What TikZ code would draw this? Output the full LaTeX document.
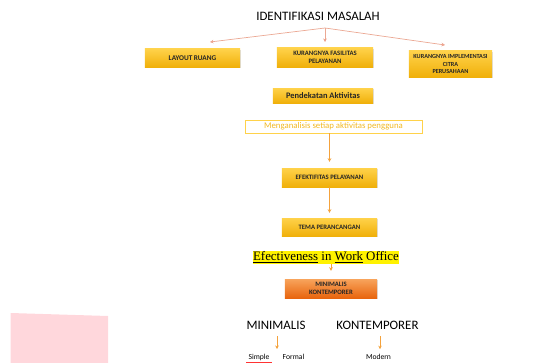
\documentclass[tikz,border=0pt]{standalone}
\usepackage{fontspec}
\setmainfont{Carlito}
\newfontfamily\timesfont{Liberation Serif}
\usepackage{tikz}
\usetikzlibrary{arrows.meta}
\usetikzlibrary{shadows}

\definecolor{boxtop}{HTML}{FFD24A}
\definecolor{boxbot}{HTML}{F0B00A}
\definecolor{orgtop}{HTML}{F8A45C}
\definecolor{orgbot}{HTML}{E8650E}
\definecolor{linesalmon}{HTML}{EBA893}
\definecolor{arrorange}{HTML}{F4A23C}
\definecolor{pinkblock}{HTML}{FFD7DC}

\tikzset{
  ybox/.style={top color=boxtop, bottom color=boxbot, align=center, inner sep=1pt,
    font=\bfseries\fontsize{6.2}{7}\selectfont, text=black!85,
    drop shadow={opacity=0.25, shadow xshift=0.5pt, shadow yshift=-1pt}},
  obox/.style={ybox, top color=orgtop, bottom color=orgbot},
  arr/.style={draw=arrorange, line width=0.6pt, arrows={-Stealth[width=3pt, length=3pt]}},
  branch/.style={draw=linesalmon, line width=0.6pt, arrows={-Stealth[width=3pt, length=3pt, fill=red!70!orange]}},
}

\begin{document}
\begin{tikzpicture}[x=0.03cm, y=-0.03cm]
\useasboundingbox (0, 0) rectangle (547, 363);
\fill[pinkblock] (10.5, 313) -- (108, 316) -- (108, 363) -- (10.5, 363) -- cycle;

\node[font=\fontsize{11}{13}\selectfont] (title) at (318, 16) {IDENTIFIKASI MASALAH};
\coordinate (br) at (325, 28);
\coordinate (tip_lay) at (210, 42);
\coordinate (tip_fas) at (325, 42);
\coordinate (tip_img) at (445, 45);

\node[ybox, minimum width=2.85cm, minimum height=0.54cm] (lay) at (192.5, 58) {LAYOUT RUANG};
\node[ybox, font=\bfseries\fontsize{5.7}{6.6}\selectfont, minimum width=2.88cm, minimum height=0.57cm] (fas) at (325, 57.5) {KURANGNYA FASILITAS\\PELAYANAN};
\node[ybox, font=\bfseries\fontsize{5.3}{6.4}\selectfont, minimum width=2.49cm, minimum height=0.78cm] (img) at (450.5, 64) {KURANGNYA IMPLEMENTASI\\CITRA\\PERUSAHAAN};
\draw[branch] (br) -- (tip_lay);
\draw[branch] (br) -- (tip_fas);
\draw[branch] (br) -- (tip_img);

\node[ybox, font=\bfseries\fontsize{7.2}{8}\selectfont, minimum width=3cm, minimum height=0.45cm] (pend) at (323, 95.5) {Pendekatan Aktivitas};
\node[draw=boxtop, line width=0.6pt, text=boxbot!90!white, font=\fontsize{7.5}{8}\selectfont,
  minimum width=5.31cm, minimum height=0.39cm, inner sep=1pt] (meng) at (333.5, 126.5) {Menganalisis setiap aktivitas pengguna};

\node[ybox, font=\bfseries\fontsize{5.7}{7}\selectfont, minimum width=2.85cm, minimum height=0.57cm] (efek) at (329.5, 177.5) {EFEKTIFITAS PELAYANAN};
\node[ybox, font=\bfseries\fontsize{5.7}{7}\selectfont, minimum width=2.85cm, minimum height=0.54cm] (tema) at (329.5, 227) {TEMA PERANCANGAN};
\node[fill=yellow, inner sep=0.5pt, font=\timesfont\fontsize{11}{12}\selectfont] (eff) at (326, 257.5)
  {\underline{Efectiveness} in \underline{Work} Office};
\node[obox, font=\bfseries\fontsize{5.7}{6.8}\selectfont, minimum width=2.76cm, minimum height=0.57cm] (mk) at (331, 288.5) {MINIMALIS\\KONTEMPORER};

\draw[arr, shorten >=6*0.03cm] (meng.south -| efek.north) -- (efek.north);
\draw[arr, shorten >=5*0.03cm] (efek) -- (tema);
\draw[arr, shorten >=8*0.03cm] (eff.south -| mk.north) -- (mk.north);

\node[font=\fontsize{11}{13}\selectfont] (mini) at (276, 325) {MINIMALIS};
\node[font=\fontsize{11}{13}\selectfont] (kont) at (377.5, 325) {KONTEMPORER};
\node[font=\fontsize{6.5}{7}\selectfont] (simple) at (259, 357) {Simple};
\node[font=\fontsize{6.5}{7}\selectfont] (formal) at (293.5, 357) {Formal};
\node[font=\fontsize{6.5}{7}\selectfont] (modern) at (378.5, 357) {Modern};
\coordinate (mini_tip) at (277, 349);
\draw[red!80, line width=0.4pt] ([yshift=2.2pt, xshift=1.5pt]simple.south west) -- ([yshift=2.2pt, xshift=-1.5pt]simple.south east);
\draw[arr, shorten <=3*0.03cm] (mini.south -| mini_tip) -- (mini_tip);
\draw[arr, shorten <=3*0.03cm, shorten >=1*0.03cm] (kont.south -| 380, 0) -- (modern.north -| 380, 0);
\end{tikzpicture}
\end{document}
